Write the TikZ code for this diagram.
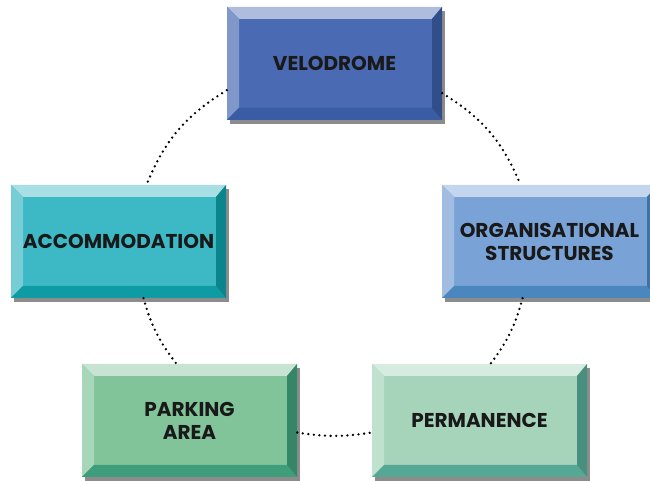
\documentclass[tikz,border=0pt]{standalone}
\usepackage{fontspec}
\newfontfamily\boxfont{Poppins}
\usetikzlibrary{shadows}

\definecolor{veloface}{HTML}{4A6AB4}
\definecolor{velodark}{HTML}{3A5CA4}
\definecolor{accface}{HTML}{3DB8C5}
\definecolor{accdark}{HTML}{0E9BA4}
\definecolor{orgface}{HTML}{79A3D6}
\definecolor{orgdark}{HTML}{4A87BF}
\definecolor{parkface}{HTML}{82C49A}
\definecolor{parkdark}{HTML}{3E9E7C}
\definecolor{permface}{HTML}{A6D4BB}
\definecolor{permdark}{HTML}{55A894}

\tikzset{
  bevelbox/.style 2 args={fill=#1, minimum width=215pt, minimum height=113pt,
    inner sep=2pt, align=center, text=black!90,
    font=\boxfont\bfseries\fontsize{20}{23}\selectfont,
    drop shadow={shadow xshift=3pt, shadow yshift=-4pt, fill=black!45, opacity=1},
    path picture={
      \coordinate (pnw) at (path picture bounding box.north west);
      \coordinate (pne) at (path picture bounding box.north east);
      \coordinate (pse) at (path picture bounding box.south east);
      \coordinate (psw) at (path picture bounding box.south west);
      \coordinate (qnw) at ([shift={(12pt,-12pt)}]pnw);
      \coordinate (qne) at ([shift={(-10pt,-12pt)}]pne);
      \coordinate (qse) at ([shift={(-10pt,12pt)}]pse);
      \coordinate (qsw) at ([shift={(12pt,12pt)}]psw);
      \fill[#1!45!white] (pnw) -- (pne) -- (qne) -- (qnw) -- cycle;
      \fill[#1!70!white] (pnw) -- (qnw) -- (qsw) -- (psw) -- cycle;
      \fill[#2] (psw) -- (qsw) -- (qse) -- (pse) -- cycle;
      \fill[#2!85!black] (pne) -- (pse) -- (qse) -- (qne) -- cycle;
    }},
  link/.style={line width=2.6pt, dash pattern=on 0pt off 5.6pt, line cap=round}
}

\begin{document}
\begin{tikzpicture}[x=1pt, y=1pt]
  \useasboundingbox (0,0) rectangle (650,481);
  \clip (0,0) rectangle (650,481);

  % the five boxes
  \node[bevelbox={veloface}{velodark}] (velo) at (334.5,417.5) {VELODROME};
  \node[bevelbox={accface}{accdark}] (accom) at (118.5,239.5) {ACCOMMODATION};
  \node[bevelbox={orgface}{orgdark}] (org) at (549.5,239.5) {ORGANISATIONAL\\STRUCTURES};
  \node[bevelbox={parkface}{parkdark}] (park) at (189.5,60.5) {PARKING\\AREA};
  \node[bevelbox={permface}{permdark}] (perm) at (479.5,60.5) {PERMANENCE};

  % dotted cycle
  \draw[link] ([yshift=30pt]velo.south west) to[bend right=18] ([xshift=28pt]accom.north);
  \draw[link] ([yshift=27pt]velo.south east) to[bend left=18] ([xshift=-29pt]org.north);
  \draw[link] ([xshift=25pt]accom.south) to[bend right=11] ([xshift=-13pt]park.north);
  \draw[link] ([xshift=-27pt]org.south) to[bend left=11] ([xshift=11pt]perm.north);
  \draw[link] ([yshift=-12pt]park.east) to[bend right=9] ([yshift=-12pt]perm.west);
\end{tikzpicture}
\end{document}
